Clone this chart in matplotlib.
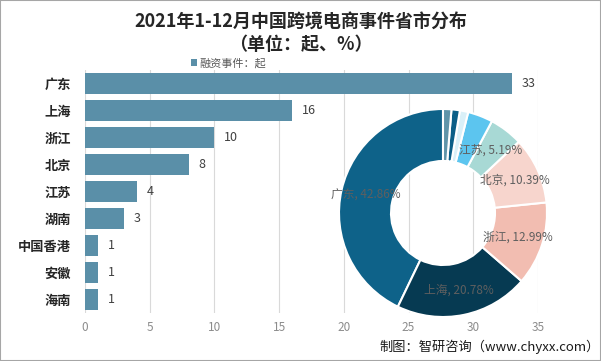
import matplotlib
matplotlib.use("Agg")
import matplotlib.pyplot as plt
from matplotlib.patches import Rectangle
import numpy as np

plt.rcParams['font.family'] = ['Noto Sans CJK SC', 'DejaVu Sans']

provinces = ['广东', '上海', '浙江', '北京', '江苏', '湖南', '中国香港', '安徽', '海南']
events = [33, 16, 10, 8, 4, 3, 1, 1, 1]
pie_colors = ['#0e6289', '#063a52', '#f2bdb1', '#f7d5cd', '#a8d9d5',
              '#5cc5ef', '#d9f0f8', '#0a5e87', '#5f94a9']
bar_color = '#5a8fa8'

fig = plt.figure(figsize=(6.01, 3.61), dpi=100)
fig.patch.set_facecolor('white')

# ---- bar chart ----
ax = fig.add_axes([85 / 601, 48 / 361, 453 / 601, 243 / 361])
y = np.arange(len(provinces))
bars = ax.barh(y, events, height=0.8, color=bar_color, label='融资事件：起', zorder=2)
ax.set_ylim(len(provinces) - 0.5, -0.5)
ax.set_xlim(0, 35)
ax.set_xticks(range(0, 36, 5))
ax.set_yticks(y)
ax.set_yticklabels(provinces, fontsize=9.5, fontweight='bold', color='#262626')
ax.tick_params(axis='x', labelsize=8.5, labelcolor='#8c8c8c', length=0, pad=6)
ax.tick_params(axis='y', length=0, pad=10)
ax.grid(axis='x', color='#d9d9d9', linewidth=0.8, zorder=0)
for s in ax.spines.values():
    s.set_visible(False)
ax.bar_label(bars, labels=[str(v) for v in events], padding=7, fontsize=9, color='#404040')
ax.legend(loc='lower left', bbox_to_anchor=(185 / 601, 287 / 361), bbox_transform=fig.transFigure,
          frameon=False, fontsize=8, handlelength=0.6, handleheight=0.6, handletextpad=0.2,
          borderpad=0, labelcolor='#595959')

# ---- donut ----
pax = fig.add_axes([339 / 601, 44 / 361, 208 / 601, 208 / 361])
total = sum(events)
wedges, _ = pax.pie(events, colors=pie_colors, startangle=90, counterclock=True,
                    radius=1, wedgeprops=dict(width=0.5, edgecolor='white', linewidth=1.5))
pax.set_xlim(-1, 1)
pax.set_ylim(-1, 1)
pax.set_aspect('equal')
for w, name, v in zip(wedges, provinces, events):
    pct = v / total * 100
    if pct < 5:
        continue
    ang = np.deg2rad((w.theta1 + w.theta2) / 2)
    r = 0.76
    pax.text(r * np.cos(ang), r * np.sin(ang), f'{name}, {pct:.2f}%',
             ha='center', va='center', fontsize=8.5, color='#5f5f5f')

# ---- titles & footer ----
fig.text(0.5, 1 - 21 / 361, '2021年1-12月中国跨境电商事件省市分布', ha='center', va='center',
         fontsize=13, fontweight='bold', color='#262626')
fig.text(0.5, 1 - 44 / 361, '（单位：起、%）', ha='center', va='center',
         fontsize=13, fontweight='bold', color='#262626')
fig.text(600 / 601, 1 - 347 / 361, '制图：智研咨询（www.chyxx.com）', ha='right', va='center',
         fontsize=9.5, color='#1a1a1a')

fig.patches.append(Rectangle((0, 0), 1, 1, transform=fig.transFigure, fill=False,
                             edgecolor='#a6a6a6', linewidth=1.5))

fig.savefig('out.png', dpi=100)
